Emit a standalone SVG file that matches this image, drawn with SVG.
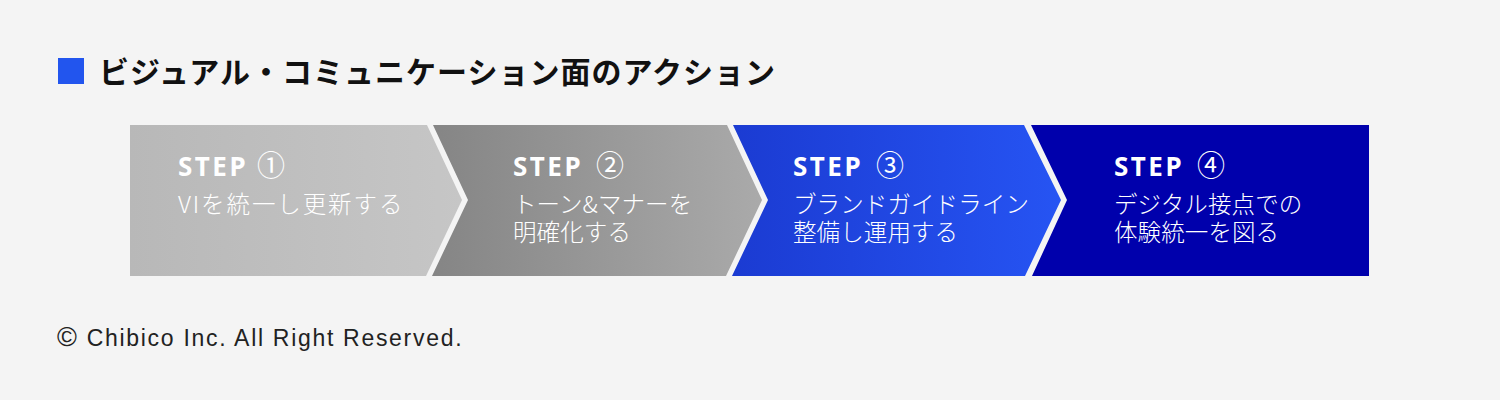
<svg xmlns="http://www.w3.org/2000/svg" width="1500" height="400" viewBox="0 0 1500 400">
  <defs>
    <linearGradient id="g1" x1="0" y1="0" x2="1" y2="0">
      <stop offset="0" stop-color="#b8b8b8"/>
      <stop offset="1" stop-color="#c6c6c6"/>
    </linearGradient>
    <linearGradient id="g2" x1="0" y1="0" x2="1" y2="0">
      <stop offset="0" stop-color="#858585"/>
      <stop offset="1" stop-color="#aaaaaa"/>
    </linearGradient>
    <linearGradient id="g3" x1="0" y1="0" x2="1" y2="0">
      <stop offset="0" stop-color="#1b3bd2"/>
      <stop offset="1" stop-color="#2654f3"/>
    </linearGradient>
    <style>
      .title { font-family: "Noto Sans CJK JP", sans-serif; font-weight: 700; font-size: 30px; fill: #111111; letter-spacing: 1px; }
      .step { font-family: "Noto Sans", "Noto Sans CJK JP", sans-serif; font-weight: 700; font-size: 26px; fill: #ffffff; letter-spacing: 2.5px; }
      .num { font-family: "Noto Sans CJK JP", sans-serif; font-weight: 400; font-size: 28px; fill: #ffffff; letter-spacing: 0; }
      .cap { font-family: "Noto Sans CJK JP", sans-serif; font-weight: 300; font-size: 23.5px; fill: #ffffff; letter-spacing: 0.1px; }
      .wide { letter-spacing: 1.9px; }
      .copy { font-family: "Liberation Sans", Arial, sans-serif; font-size: 23px; fill: #222222; letter-spacing: 1.7px; }
    </style>
  </defs>
  <rect x="0" y="0" width="1500" height="400" fill="#f4f4f4"/>

  <g id="title">
    <rect x="58" y="58" width="26" height="26" fill="#2255ee"/>
    <text class="title" x="99" y="83">ビジュアル・コミュニケーション面のアクション</text>
  </g>

  <g id="step1">
    <path d="M130,125 L427,125 L462,200 L426,276 L130,276 Z" fill="url(#g1)"/>
    <text class="step" x="178" y="176">STEP<tspan class="num" x="257">①</tspan></text>
    <text class="cap wide" x="178" y="213">VIを統一し更新する</text>
  </g>

  <g id="step2">
    <path d="M433,125 L727,125 L762,200 L726,276 L432,276 L468,200 Z" fill="url(#g2)"/>
    <text class="step" x="513" y="176">STEP <tspan class="num" x="596">②</tspan></text>
    <text class="cap" x="513" y="213">トーン&amp;マナーを</text>
    <text class="cap" x="513" y="241">明確化する</text>
  </g>

  <g id="step3">
    <path d="M733,125 L1024,125 L1061,200 L1025,276 L732,276 L768,200 Z" fill="url(#g3)"/>
    <text class="step" x="793" y="176">STEP <tspan class="num" x="876">③</tspan></text>
    <text class="cap" x="793" y="213">ブランドガイドライン</text>
    <text class="cap" x="793" y="241">整備し運用する</text>
  </g>

  <g id="step4">
    <path d="M1031,125 L1369,125 L1369,276 L1032,276 L1067,200 Z" fill="#0000ac"/>
    <text class="step" x="1114" y="176">STEP <tspan class="num" x="1197">④</tspan></text>
    <text class="cap" x="1114" y="213">デジタル接点での</text>
    <text class="cap" x="1114" y="241">体験統一を図る</text>
  </g>

  <g id="connectors"></g>

  <text class="copy" x="57" y="346"><tspan font-size="27px">©</tspan> Chibico Inc. All Right Reserved.</text>
</svg>
